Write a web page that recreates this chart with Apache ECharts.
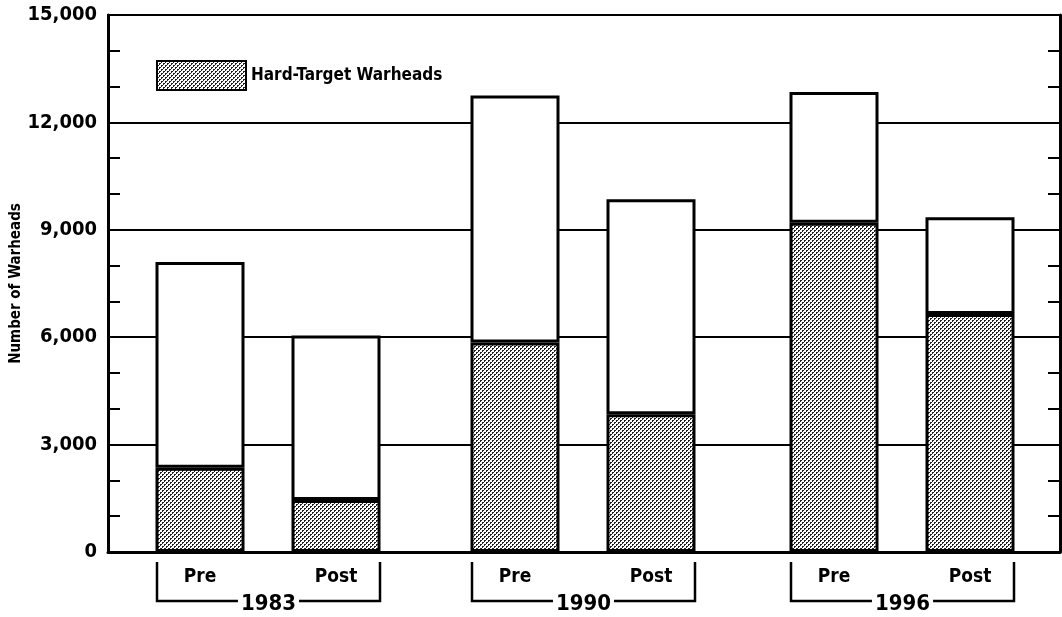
<!DOCTYPE html>
<html>
<head>
<meta charset="utf-8">
<title>Hard-Target Warheads</title>
<script src="https://cdn.jsdelivr.net/npm/echarts@6/dist/echarts.min.js"></script>
<style>
  html, body { margin: 0; padding: 0; background: #fff; }
  #chart { width: 1062px; height: 617px; }
</style>
</head>
<body>
<div id="chart"></div>
<script>
// data
const years = ['1983', '1990', '1996']
const phases = ['Pre', 'Post']
const hardTarget = [[2350, 1450], [5850, 3850], [9200, 6650]]
const totalWarheads = [[8100, 6050], [12750, 9850], [12850, 9350]]

const FONT = '"DejaVu Sans Condensed", "Liberation Sans Narrow", sans-serif'
const INK = '#000'

// dotted fill like the printed screen tone
function dotPattern() {
  const c = document.createElement('canvas')
  c.width = 4
  c.height = 4
  const ctx = c.getContext('2d')
  ctx.fillStyle = '#fff'
  ctx.fillRect(0, 0, 4, 4)
  ctx.fillStyle = '#222'
  ctx.fillRect(0, 0, 2, 1)
  ctx.fillRect(0, 1, 1, 1)
  ctx.fillRect(2, 2, 2, 1)
  ctx.fillRect(2, 3, 1, 1)
  return c
}
const dots = { image: dotPattern(), repeat: 'repeat' }

const chart = echarts.init(document.getElementById('chart'))

// one main grid for frame + y scale, one sub grid per year for the bars
const subLefts = [132, 447, 766]
const grids = [{
  left: 108, right: 2, top: 15, bottom: 65, outerBoundsMode: 'none',
  show: true, borderColor: INK, borderWidth: 2
}]
const xAxes = [{
  type: 'value', gridIndex: 0, min: 0, max: 1,
  axisLine: { show: true, lineStyle: { color: INK, width: 3 } },
  axisTick: { show: false }, axisLabel: { show: false }, splitLine: { show: false }
}]
const yAxes = [{
  type: 'value', gridIndex: 0, min: 0, max: 15000, interval: 3000, position: 'left',
  name: 'Number of Warheads', nameLocation: 'middle', nameRotate: 90, nameGap: 84,
  nameMoveOverlap: false,
  nameTextStyle: { fontFamily: FONT, fontWeight: 'bold', fontSize: 15, color: INK },
  axisLine: { show: true, lineStyle: { color: INK, width: 3 } },
  axisTick: { show: true, inside: true, length: 12, lineStyle: { color: INK, width: 2 } },
  minorTick: { show: true, splitNumber: 3, length: 12, lineStyle: { color: INK, width: 2 } },
  axisLabel: {
    margin: 11, fontFamily: FONT, fontWeight: 'bold', fontSize: 20, color: INK,
    formatter: v => v.toLocaleString('en-US')
  },
  splitLine: { show: true, lineStyle: { color: INK, width: 2 } }
}, {
  type: 'value', gridIndex: 0, min: 0, max: 15000, interval: 3000, position: 'right',
  axisLine: { show: true, lineStyle: { color: INK, width: 3 } },
  axisTick: { show: true, inside: true, length: 12, lineStyle: { color: INK, width: 2 } },
  minorTick: { show: true, splitNumber: 3, length: 12, lineStyle: { color: INK, width: 2 } },
  axisLabel: { show: false },
  splitLine: { show: false }
}]
const series = []

years.forEach((yr, k) => {
  grids.push({ left: subLefts[k], width: 272, top: 15, bottom: 65, outerBoundsMode: 'none' })
  xAxes.push({
    type: 'category', gridIndex: k + 1, data: phases,
    axisLine: { show: false }, axisTick: { show: false },
    axisLabel: { margin: 16, fontFamily: FONT, fontWeight: 'bold', fontSize: 19, color: INK }
  })
  yAxes.push({ type: 'value', gridIndex: k + 1, min: 0, max: 15000, show: false })
  const common = {
    type: 'bar', stack: 'y' + yr, barWidth: 89,
    xAxisIndex: k + 1, yAxisIndex: k + 2
  }
  series.push(Object.assign({}, common, {
    name: 'Hard-Target Warheads',
    data: hardTarget[k],
    itemStyle: { color: dots, borderColor: INK, borderWidth: 3 }
  }))
  series.push(Object.assign({}, common, {
    name: 'Other Warheads',
    data: totalWarheads[k].map((t, i) => t - hardTarget[k][i]),
    itemStyle: { color: '#fff', borderColor: INK, borderWidth: 3 }
  }))
})

chart.setOption({
  animation: false,
  legend: {
    data: ['Hard-Target Warheads'],
    left: 151, top: 55,
    itemWidth: 89, itemHeight: 29, itemGap: 10,
    icon: 'rect',
    textStyle: { fontFamily: FONT, fontWeight: 'bold', fontSize: 17, color: INK }
  },
  grid: grids,
  xAxis: xAxes,
  yAxis: yAxes,
  series: series
})

// year brackets under each Pre/Post pair
const baseY = chart.convertToPixel({ yAxisIndex: 0 }, 0)
const graphics = []
years.forEach((yr, k) => {
  const xPre = chart.convertToPixel({ xAxisIndex: k + 1 }, phases[0])
  const xPost = chart.convertToPixel({ xAxisIndex: k + 1 }, phases[1])
  const xl = xPre - 43
  const xr = xPost + 44
  const yb = baseY + 49
  graphics.push({
    type: 'polyline',
    shape: { points: [[xl, baseY + 10], [xl, yb], [xr, yb], [xr, baseY + 10]] },
    style: { stroke: INK, lineWidth: 2.5, fill: null }
  })
  graphics.push({
    type: 'text',
    x: (xl + xr) / 2, y: yb + 3,
    style: {
      text: yr, fill: INK, font: 'bold 22px ' + FONT,
      align: 'center', verticalAlign: 'middle',
      backgroundColor: '#fff', padding: [0, 3]
    }
  })
})
chart.setOption({ graphic: graphics })
</script>
</body>
</html>
